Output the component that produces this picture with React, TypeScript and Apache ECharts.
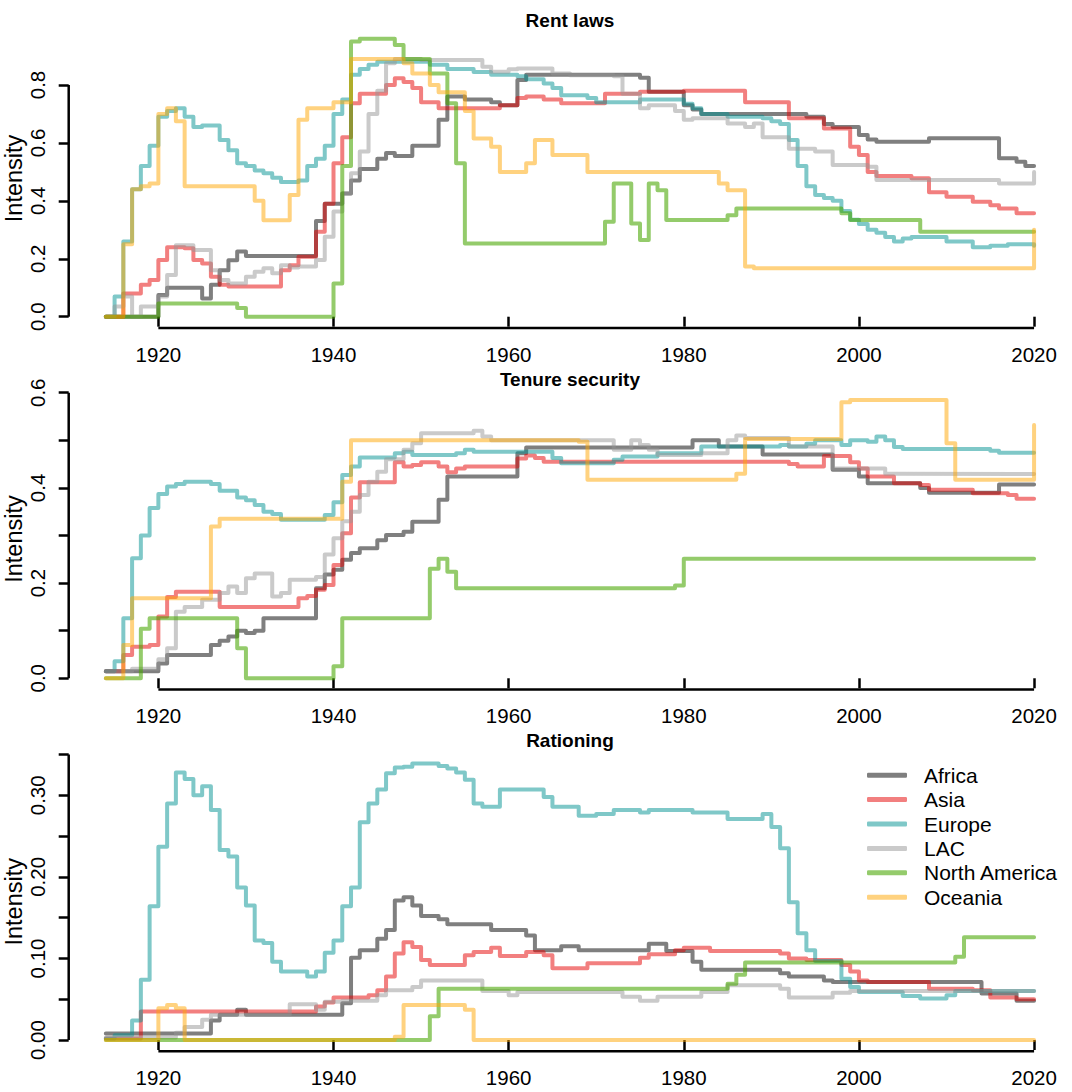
import React, { useEffect, useRef } from "react";
import * as echarts from "echarts";

const FONT = "'Liberation Sans', Arial, Helvetica, sans-serif";

const regions = ["Africa", "Asia", "Europe", "LAC", "North America", "Oceania"];
const regionColors = [
  "rgba(0,0,0,0.5)",
  "rgba(230,0,0,0.5)",
  "rgba(0,145,145,0.5)",
  "rgba(150,150,150,0.5)",
  "rgba(70,165,0,0.58)",
  "rgba(255,165,0,0.5)",
];
const panelTitles = ["Rent laws", "Tenure security", "Rationing"];
const xTicks = [1920, 1940, 1960, 1980, 2000, 2020];
const rentTicks = [0, 0.2, 0.4, 0.6, 0.8];
const rentLabels = [0, 0.2, 0.4, 0.6, 0.8];
const tenureTicks = [0, 0.1, 0.2, 0.3, 0.4, 0.5, 0.6];
const tenureLabels = [0, 0.2, 0.4, 0.6];
const rationTicks = [0, 0.05, 0.1, 0.15, 0.2, 0.25, 0.3, 0.35];
const rationLabels = [0, 0.1, 0.2, 0.3];

// ---- Rent laws (year, value) change points ----
const rentAfrica = [[1914,0],[1920,0.075],[1921,0.1],[1925,0.063],[1926,0.11],[1927,0.16],[1928,0.195],[1929,0.225],[1930,0.21],[1938,0.33],[1939,0.39],[1941,0.425],[1942,0.47],[1943,0.51],[1945,0.545],[1946,0.565],[1947,0.555],[1949,0.59],[1952,0.68],[1953,0.76],[1955,0.75],[1958,0.74],[1959,0.73],[1961,0.817],[1962,0.835],[1975,0.825],[1976,0.777],[1980,0.73],[1981,0.715],[1982,0.7],[1994,0.69],[1996,0.665],[1997,0.655],[2000,0.627],[2001,0.612],[2002,0.604],[2008,0.616],[2016,0.547],[2018,0.535],[2019,0.52],[2020,0.52]];
const rentAsia = [[1914,0],[1916,0.08],[1918,0.11],[1919,0.127],[1920,0.196],[1921,0.24],[1923,0.236],[1924,0.196],[1925,0.184],[1926,0.138],[1927,0.11],[1928,0.104],[1934,0.16],[1935,0.178],[1936,0.207],[1938,0.293],[1939,0.39],[1940,0.53],[1941,0.62],[1942,0.737],[1943,0.77],[1946,0.8],[1947,0.823],[1948,0.81],[1949,0.79],[1950,0.74],[1952,0.72],[1959,0.73],[1961,0.755],[1962,0.76],[1964,0.75],[1966,0.737],[1971,0.77],[1975,0.777],[1980,0.78],[1987,0.74],[1992,0.685],[1996,0.65],[1999,0.587],[2000,0.558],[2001,0.5],[2002,0.486],[2006,0.478],[2008,0.43],[2010,0.414],[2013,0.397],[2015,0.385],[2016,0.374],[2018,0.357],[2020,0.357]];
const rentEurope = [[1914,0],[1915,0.07],[1916,0.26],[1917,0.44],[1918,0.52],[1919,0.59],[1920,0.69],[1921,0.71],[1922,0.72],[1923,0.69],[1924,0.655],[1925,0.66],[1927,0.61],[1928,0.575],[1929,0.53],[1930,0.52],[1931,0.505],[1932,0.495],[1933,0.48],[1934,0.465],[1936,0.47],[1937,0.52],[1938,0.545],[1939,0.59],[1940,0.7],[1941,0.75],[1942,0.835],[1943,0.855],[1944,0.87],[1945,0.88],[1951,0.87],[1953,0.855],[1956,0.845],[1958,0.835],[1961,0.83],[1962,0.82],[1964,0.805],[1965,0.79],[1966,0.765],[1969,0.755],[1970,0.74],[1975,0.75],[1980,0.735],[1981,0.72],[1982,0.7],[1985,0.69],[1989,0.685],[1990,0.675],[1991,0.665],[1992,0.61],[1993,0.52],[1994,0.45],[1995,0.42],[1996,0.41],[1997,0.4],[1998,0.365],[1999,0.335],[2000,0.32],[2001,0.3],[2002,0.29],[2003,0.275],[2004,0.26],[2005,0.27],[2006,0.275],[2010,0.26],[2013,0.24],[2015,0.245],[2017,0.25],[2020,0.245]];
const rentLAC = [[1914,0],[1915,0.035],[1916,0.07],[1917,0],[1918,0.035],[1920,0.07],[1921,0.144],[1922,0.247],[1924,0.23],[1926,0.16],[1927,0.127],[1928,0.115],[1930,0.138],[1931,0.155],[1932,0.167],[1933,0.15],[1934,0.178],[1935,0.17],[1936,0.173],[1938,0.196],[1939,0.276],[1940,0.363],[1941,0.425],[1942,0.495],[1943,0.57],[1944,0.7],[1945,0.78],[1946,0.875],[1947,0.89],[1950,0.886],[1957,0.863],[1958,0.846],[1960,0.854],[1961,0.857],[1965,0.84],[1967,0.834],[1972,0.83],[1973,0.77],[1975,0.72],[1976,0.73],[1979,0.71],[1980,0.68],[1981,0.685],[1985,0.667],[1987,0.655],[1988,0.667],[1989,0.62],[1992,0.58],[1995,0.57],[1997,0.524],[2001,0.518],[2002,0.472],[2016,0.46],[2020,0.5]];
const rentNA = [[1914,0],[1920,0.046],[1929,0.03],[1930,0],[1940,0.115],[1941,0.52],[1942,0.95],[1943,0.96],[1947,0.938],[1948,0.89],[1951,0.84],[1953,0.737],[1954,0.53],[1955,0.253],[1971,0.328],[1972,0.46],[1974,0.322],[1975,0.265],[1976,0.46],[1977,0.437],[1978,0.334],[1985,0.35],[1986,0.374],[1998,0.357],[1999,0.334],[2007,0.293],[2020,0.293]];
const rentOceania = [[1914,0],[1916,0.25],[1917,0.44],[1918,0.45],[1919,0.46],[1920,0.7],[1921,0.72],[1922,0.675],[1923,0.45],[1931,0.4],[1932,0.333],[1935,0.42],[1936,0.68],[1937,0.72],[1940,0.74],[1942,0.89],[1948,0.875],[1949,0.84],[1951,0.8],[1952,0.775],[1955,0.71],[1956,0.615],[1958,0.587],[1959,0.5],[1962,0.53],[1963,0.61],[1965,0.558],[1969,0.5],[1984,0.46],[1985,0.437],[1987,0.173],[1988,0.167],[2020,0.3]];

// ---- Tenure security ----
const tenureAfrica = [[1914,0.015],[1920,0.031],[1921,0.049],[1926,0.07],[1927,0.079],[1928,0.088],[1929,0.1],[1930,0.095],[1931,0.1],[1932,0.126],[1938,0.189],[1939,0.218],[1940,0.228],[1941,0.249],[1942,0.263],[1943,0.273],[1945,0.29],[1946,0.301],[1948,0.308],[1949,0.329],[1952,0.375],[1953,0.424],[1961,0.473],[1962,0.485],[1981,0.5],[1984,0.487],[1989,0.47],[1997,0.438],[2000,0.424],[2001,0.41],[2007,0.4],[2008,0.39],[2016,0.407],[2020,0.407]];
const tenureAsia = [[1914,0.015],[1916,0.049],[1917,0.066],[1919,0.07],[1920,0.13],[1921,0.171],[1922,0.182],[1927,0.15],[1936,0.168],[1937,0.173],[1938,0.186],[1939,0.196],[1940,0.238],[1941,0.305],[1942,0.38],[1943,0.412],[1947,0.454],[1948,0.445],[1949,0.448],[1950,0.454],[1952,0.445],[1953,0.433],[1954,0.441],[1955,0.445],[1961,0.462],[1962,0.468],[1963,0.463],[1964,0.455],[1992,0.45],[1993,0.445],[1996,0.467],[1999,0.454],[2000,0.441],[2001,0.424],[2004,0.41],[2007,0.406],[2008,0.396],[2013,0.389],[2017,0.385],[2018,0.377],[2020,0.377]];
const tenureEurope = [[1914,0.015],[1915,0.036],[1916,0.126],[1917,0.252],[1918,0.3],[1919,0.358],[1920,0.387],[1921,0.403],[1922,0.408],[1923,0.413],[1926,0.408],[1927,0.394],[1929,0.38],[1930,0.374],[1931,0.364],[1932,0.35],[1933,0.345],[1934,0.333],[1939,0.343],[1940,0.37],[1941,0.427],[1942,0.445],[1943,0.464],[1947,0.473],[1948,0.476],[1949,0.469],[1954,0.473],[1955,0.48],[1956,0.476],[1965,0.463],[1966,0.452],[1972,0.459],[1973,0.466],[1977,0.473],[1982,0.487],[1991,0.49],[1992,0.487],[1994,0.493],[1995,0.5],[1998,0.49],[1999,0.5],[2001,0.497],[2002,0.508],[2003,0.5],[2004,0.486],[2005,0.482],[2015,0.478],[2016,0.474],[2020,0.474]];
const tenureLAC = [[1914,0.015],[1917,0.02],[1920,0.04],[1921,0.063],[1922,0.14],[1923,0.15],[1925,0.165],[1927,0.179],[1928,0.193],[1929,0.179],[1930,0.21],[1931,0.22],[1933,0.172],[1934,0.179],[1935,0.207],[1938,0.213],[1939,0.26],[1940,0.294],[1941,0.33],[1942,0.35],[1943,0.385],[1944,0.413],[1945,0.434],[1946,0.46],[1948,0.48],[1949,0.494],[1950,0.515],[1956,0.52],[1957,0.508],[1958,0.5],[1972,0.48],[1974,0.5],[1975,0.49],[1976,0.48],[1977,0.469],[1982,0.473],[1985,0.5],[1986,0.51],[1987,0.505],[1992,0.487],[1997,0.441],[2003,0.43],[2004,0.429],[2020,0.429]];
const tenureNA = [[1914,0],[1918,0.104],[1919,0.126],[1929,0.063],[1930,0],[1940,0.025],[1941,0.126],[1951,0.23],[1952,0.251],[1953,0.224],[1954,0.189],[1979,0.195],[1980,0.251],[2020,0.251]];
const tenureOceania = [[1914,0],[1916,0.07],[1917,0.168],[1926,0.319],[1927,0.335],[1941,0.413],[1942,0.5],[1968,0.497],[1969,0.417],[1986,0.43],[1987,0.503],[1998,0.58],[1999,0.585],[2010,0.494],[2011,0.417],[2020,0.532]];

// ---- Rationing ----
const rationAfrica = [[1914,0.008],[1926,0.024],[1927,0.031],[1929,0.037],[1930,0.031],[1941,0.045],[1942,0.101],[1943,0.11],[1945,0.124],[1946,0.135],[1947,0.171],[1948,0.175],[1949,0.165],[1950,0.152],[1952,0.148],[1953,0.142],[1958,0.135],[1962,0.128],[1963,0.11],[1966,0.115],[1968,0.11],[1976,0.118],[1978,0.109],[1981,0.096],[1982,0.086],[1991,0.082],[1992,0.078],[1996,0.073],[1997,0.071],[2014,0.057],[2018,0.048],[2020,0.048]];
const rationAsia = [[1914,0.002],[1918,0.035],[1938,0.041],[1939,0.046],[1940,0.052],[1944,0.055],[1945,0.061],[1946,0.078],[1947,0.106],[1948,0.12],[1949,0.114],[1950,0.098],[1951,0.092],[1955,0.104],[1956,0.108],[1958,0.113],[1959,0.103],[1962,0.108],[1964,0.104],[1965,0.088],[1969,0.094],[1975,0.101],[1976,0.105],[1979,0.11],[1980,0.113],[1983,0.109],[1991,0.106],[1992,0.1],[1994,0.098],[1998,0.092],[1999,0.084],[2000,0.073],[2001,0.071],[2008,0.063],[2013,0.061],[2015,0.052],[2018,0.05],[2020,0.05]];
const rationEurope = [[1914,0.002],[1915,0.006],[1917,0.024],[1918,0.074],[1919,0.164],[1920,0.237],[1921,0.29],[1922,0.328],[1923,0.32],[1924,0.3],[1925,0.311],[1926,0.282],[1927,0.233],[1928,0.225],[1929,0.187],[1930,0.165],[1931,0.122],[1932,0.119],[1933,0.096],[1934,0.084],[1937,0.078],[1938,0.084],[1939,0.107],[1940,0.122],[1941,0.164],[1942,0.187],[1943,0.267],[1944,0.29],[1945,0.307],[1946,0.327],[1947,0.334],[1948,0.335],[1949,0.339],[1952,0.336],[1953,0.333],[1954,0.328],[1955,0.319],[1956,0.29],[1957,0.286],[1959,0.307],[1964,0.298],[1965,0.286],[1968,0.275],[1970,0.277],[1972,0.282],[1975,0.279],[1976,0.282],[1981,0.279],[1985,0.271],[1989,0.277],[1990,0.261],[1991,0.235],[1992,0.169],[1993,0.131],[1994,0.11],[1995,0.097],[1998,0.075],[1999,0.065],[2000,0.059],[2005,0.054],[2007,0.051],[2010,0.055],[2011,0.06],[2020,0.06]];
const rationLAC = [[1914,0.003],[1922,0.009],[1923,0.016],[1925,0.025],[1926,0.031],[1935,0.044],[1938,0.037],[1939,0.047],[1941,0.048],[1945,0.055],[1946,0.061],[1949,0.065],[1950,0.073],[1957,0.06],[1960,0.055],[1961,0.059],[1973,0.053],[1975,0.048],[1977,0.053],[1982,0.059],[1985,0.067],[1991,0.063],[1992,0.052],[1997,0.058],[1999,0.06],[2020,0.06]];
const rationNA = [[1914,0],[1951,0.029],[1952,0.063],[1985,0.069],[1986,0.08],[1987,0.095],[2011,0.102],[2012,0.126],[2020,0.126]];
const rationOceania = [[1914,0],[1920,0.039],[1921,0.043],[1922,0.039],[1923,0],[1947,0.004],[1948,0.043],[1955,0.037],[1956,0],[2020,0]];

const panelData = [
  [rentAfrica, rentAsia, rentEurope, rentLAC, rentNA, rentOceania],
  [tenureAfrica, tenureAsia, tenureEurope, tenureLAC, tenureNA, tenureOceania],
  [rationAfrica, rationAsia, rationEurope, rationLAC, rationNA, rationOceania],
];
const panelTicks = [rentTicks, tenureTicks, rationTicks];
const panelLabels = [rentLabels, tenureLabels, rationLabels];
const panelDecimals = [1, 1, 2];

// layout (pixels) and axis ranges
const X_MIN = 1909.76;
const X_MAX = 2024.24;
const GRID_LEFT = 68.7;
const GRID_WIDTH = 1002.5;
const panels = [
  { top: 28.8, height: 299.2, yMin: -0.039, yMax: 0.994, titleY: 20 },
  { top: 388.7, height: 300.7, yMin: -0.0234, yMax: 0.6085, titleY: 379 },
  { top: 752.4, height: 298.8, yMin: -0.0137, yMax: 0.3526, titleY: 740 },
];

function buildOption() {
  const series: any[] = [];
  panels.forEach((p, pi) => {
    panelData[pi].forEach((d, ri) => {
      series.push({
        type: "line",
        name: regions[ri],
        xAxisIndex: pi,
        yAxisIndex: pi,
        data: d,
        step: "end",
        symbol: "none",
        silent: true,
        color: regionColors[ri],
        lineStyle: { width: 4, color: regionColors[ri], cap: "round", join: "round" },
        z: 2,
      });
    });
    const ticks = panelTicks[pi];
    // R-style axis lines (from first to last tick)
    series.push({
      type: "line",
      xAxisIndex: pi,
      yAxisIndex: pi,
      data: [[xTicks[0], p.yMin], [xTicks[xTicks.length - 1], p.yMin]],
      symbol: "none",
      silent: true,
      clip: false,
      lineStyle: { width: 2.5, color: "#000" },
      z: 3,
    });
    series.push({
      type: "line",
      xAxisIndex: pi,
      yAxisIndex: pi,
      data: [[X_MIN, ticks[0]], [X_MIN, ticks[ticks.length - 1]]],
      symbol: "none",
      silent: true,
      clip: false,
      lineStyle: { width: 2.5, color: "#000" },
      z: 3,
    });
  });

  return {
    animation: false,
    textStyle: { fontFamily: FONT },
    grid: panels.map((p) => ({
      left: GRID_LEFT,
      top: p.top,
      width: GRID_WIDTH,
      height: p.height,
      containLabel: false,
      outerBoundsMode: "none",
    })),
    xAxis: panels.map((p, i) => ({
      type: "value",
      gridIndex: i,
      min: X_MIN,
      max: X_MAX,
      axisLine: { show: false },
      splitLine: { show: false },
      axisTick: { show: true, length: 10, customValues: xTicks, lineStyle: { color: "#000", width: 2.5 } },
      axisLabel: {
        customValues: xTicks,
        margin: 15.5,
        fontSize: 20.5,
        color: "#000",
        fontFamily: FONT,
        formatter: (v: number) => String(Math.round(v)),
      },
    })),
    yAxis: panels.map((p, i) => ({
      type: "value",
      gridIndex: i,
      min: p.yMin,
      max: p.yMax,
      name: "Intensity",
      nameLocation: "middle",
      nameGap: 43,
      nameMoveOverlap: false,
      nameRotate: 90,
      nameTextStyle: { fontSize: 23.5, color: "#000", fontFamily: FONT },
      axisLine: { show: false },
      splitLine: { show: false },
      axisTick: { show: true, length: 10, customValues: panelTicks[i], lineStyle: { color: "#000", width: 2.5 } },
      axisLabel: {
        customValues: panelLabels[i],
        rotate: 90,
        margin: 21,
        fontSize: 20.5,
        color: "#000",
        fontFamily: FONT,
        formatter: (v: number) => v.toFixed(panelDecimals[i]),
      },
    })),
    graphic: panels.map((p, i) => ({
      type: "text",
      x: GRID_LEFT + GRID_WIDTH / 2,
      y: p.titleY,
      style: {
        text: panelTitles[i],
        textAlign: "center",
        textVerticalAlign: "middle",
        font: `bold 19px ${FONT}`,
        fill: "#000",
      },
    })),
    legend: {
      data: regions,
      orient: "vertical",
      left: 867,
      top: 763,
      padding: 0,
      icon: "roundRect",
      itemWidth: 40,
      itemHeight: 5,
      itemGap: 0,
      selectedMode: false,
      textStyle: { fontSize: 21, lineHeight: 24.4, color: "#000", fontFamily: FONT, padding: [0, 0, 0, 12] },
    },
    series,
  };
}

export default function App() {
  const ref = useRef<HTMLDivElement>(null);
  useEffect(() => {
    if (!ref.current) return;
    const chart = echarts.init(ref.current, undefined, { renderer: "svg" });
    chart.setOption(buildOption() as any);
    return () => chart.dispose();
  }, []);
  return (
    <div
      ref={ref}
      style={{ position: "absolute", left: 0, top: 0, width: 1072, height: 1092, background: "#fff" }}
    />
  );
}
